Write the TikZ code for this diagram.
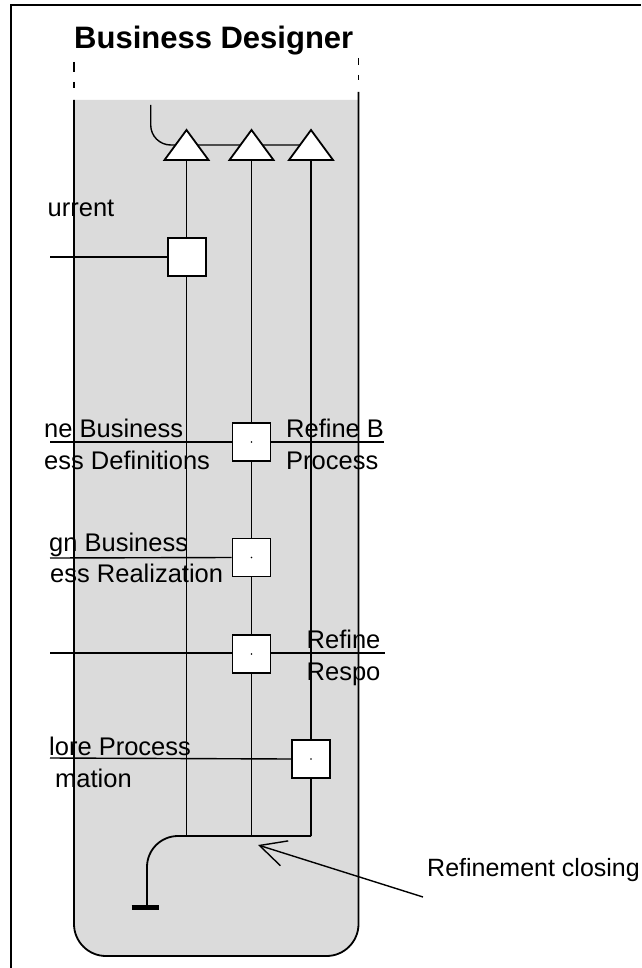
\documentclass[tikz,border=0pt]{standalone}
\usepackage{fontspec}
\setmainfont{Liberation Sans}
\usetikzlibrary{arrows.meta}
\begin{document}
\begin{tikzpicture}[x=1pt,y=-1pt,
  lanefill/.style={fill=black!14},
  laneline/.style={line width=1.8pt},
  flow/.style={line width=1.8pt},
  hline/.style={line width=1.4pt},
  actbox/.style={draw,fill=white,line width=1.8pt,minimum width=38pt,minimum height=38pt,inner sep=0pt},
  tri/.style={draw,fill=white,line width=1.8pt,line join=miter},
  lbl/.style={anchor=base west,inner sep=0pt,font=\fontsize{25.5}{30}\selectfont},
  ttl/.style={anchor=base west,inner sep=0pt,font=\bfseries\fontsize{31}{36}\selectfont},
  note/.style={anchor=base west,inner sep=0pt,font=\fontsize{25}{30}\selectfont},
  ]
\useasboundingbox (0,0) rectangle (641,968);
% outer frame
\draw[line width=2pt] (10.5,968) -- (10.5,5) -- (641,5);
% lane
\fill[lanefill] (74,100) -- (74,924) arc[start angle=180,end angle=90,radius=32]
  -- (326.5,956) arc[start angle=90,end angle=0,radius=32] -- (358.5,100) -- cycle;
\draw[laneline] (74,100) -- (74,924) arc[start angle=180,end angle=90,radius=32]
  -- (326.5,956) arc[start angle=90,end angle=0,radius=32] -- (358.5,92);
\draw[laneline] (74,62)--(74,72) (74,82)--(74,88) (358.5,58)--(358.5,65) (358.5,75)--(358.5,80);
\node[ttl] (title) at (74,49) {Business Designer};
% coordinates
\coordinate (s0) at (150.7,105);
\coordinate (t1) at (186.5,160);
\coordinate (t2) at (251.5,160);
\coordinate (t3) at (311,160);
\coordinate (j1) at (186.5,836);
\coordinate (j2) at (251.5,836);
\coordinate (j3) at (311,836);
\coordinate (fin) at (147,907);
% top fork
\draw[hline] (s0) -- (150.7,125) arc[start angle=180,end angle=90,radius=20] -- (300,145);
% vertical flows
\draw[flow] (t1) -- (j1);
\draw[flow] (t2) -- (j2);
\draw[flow] (t3) -- (j3);
% join and end
\draw[flow] (j3) -- (j1) -- (178,836) arc[start angle=270,end angle=180,radius=31] -- (fin);
\draw[line width=5pt] ([xshift=-15.5pt]fin) -- ([xshift=12pt]fin);
% triangles
\draw[tri] (t1) ++(-22,0) -- ++(22,-30) -- ++(22,30) -- cycle;
\draw[tri] (t2) ++(-22,0) -- ++(22,-30) -- ++(22,30) -- cycle;
\draw[tri] (t3) ++(-22,0) -- ++(22,-30) -- ++(22,30) -- cycle;
% horizontal lines
\coordinate (h1) at (50,257);
\coordinate (h2a) at (50,442);
\coordinate (h2b) at (384,442);
\coordinate (h3) at (50,558);
\coordinate (h4a) at (50,653);
\coordinate (h4b) at (385,653);
\coordinate (h5) at (50,758);
\draw[hline] (h2a) -- (h2b);
\draw[hline] (h4a) -- (h4b);
% boxes
\node[actbox] (b1) at (187,257) {};
\node[actbox] (b2) at (251.5,442) {};
\node[actbox] (b3) at (251.5,557.5) {};
\node[actbox] (b4) at (251.5,654) {};
\node[actbox] (b5) at (311,759) {};
\foreach \b in {b2,b3,b4,b5} \fill (\b.center) circle (0.9);
\draw[hline] (h1) -- (b1.west);
\draw[hline] (h3) -- (b3.west);
\draw[hline] (h5) -- (b5.west);
% labels
\node[lbl] (l1) at (47.5,216.7) {urrent};
\node[lbl] (l2a) at (44,437) {ne Business};
\node[lbl] (l2b) at (44,469) {ess Definitions};
\node[lbl] (r2a) at (286,437) {Refine B};
\node[lbl] (r2b) at (286,469) {Process};
\node[lbl] (l3a) at (49,551.5) {gn Business};
\node[lbl] (l3b) at (50,582.5) {ess Realization};
\node[lbl] (r4a) at (306.5,648.3) {Refine};
\node[lbl] (r4b) at (306.5,680) {Respo};
\node[lbl] (l5a) at (49,755) {lore Process};
\node[lbl] (l5b) at (55,787) {mation};
\node[note] (rc) at (427,876.7) {Refinement closing};
% annotation arrow
\coordinate (atail) at (423,897);
\coordinate (atip) at (258,845);
\draw[line width=1.4pt,-{Straight Barb[length=26pt,width=26pt]}] (atail) -- (atip);
\end{tikzpicture}
\end{document}
